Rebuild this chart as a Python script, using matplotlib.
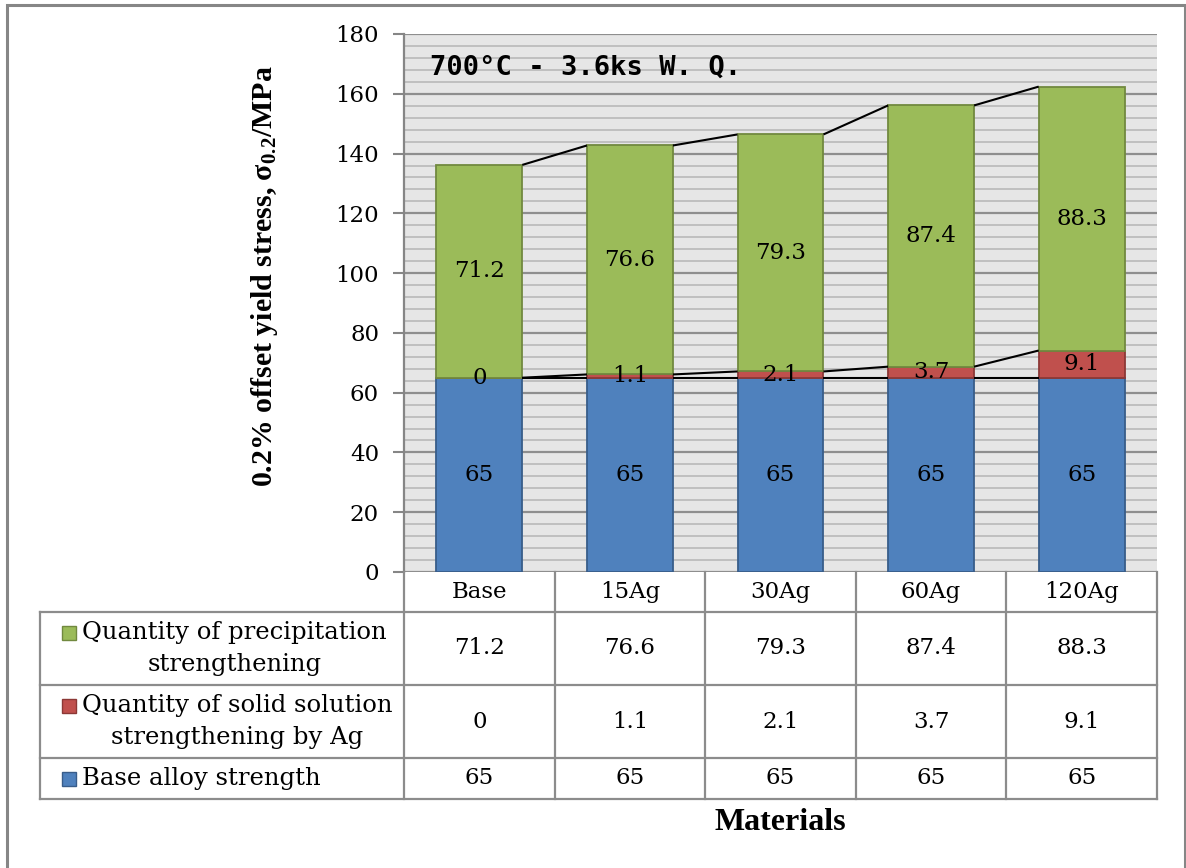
import matplotlib
matplotlib.use("Agg")
import matplotlib.pyplot as plt
import matplotlib.transforms as mtransforms
from matplotlib.patches import Rectangle
from matplotlib.lines import Line2D
from matplotlib.ticker import MultipleLocator

# ---- data -------------------------------------------------------------
materials = ["Base", "15Ag", "30Ag", "60Ag", "120Ag"]
base_strength = [65, 65, 65, 65, 65]
solid_solution = [0, 1.1, 2.1, 3.7, 9.1]
precipitation = [71.2, 76.6, 79.3, 87.4, 88.3]

series_names = ["Quantity of precipitation\nstrengthening",
                "Quantity of solid solution\nstrengthening by Ag",
                "Base alloy strength"]
y_ticks = [0, 20, 40, 60, 80, 100, 120, 140, 160, 180]
title_text = "700°C - 3.6ks W. Q."

# ---- styling ----------------------------------------------------------
plt.rcParams["mathtext.fontset"] = "custom"
plt.rcParams["mathtext.rm"] = "Liberation Serif"
plt.rcParams["mathtext.bf"] = "Liberation Serif:bold"
plt.rcParams["mathtext.it"] = "Liberation Serif:italic"

W, H = 1186, 868
C_BLUE, E_BLUE = "#4f81bd", "#385d8a"
C_RED, E_RED = "#c0504d", "#8c3836"
C_GREEN, E_GREEN = "#9bbb59", "#71893f"
GRID_BG = "#e6e6e6"
TABLE_LINE = "#8c8c8c"
SERIF = ["DejaVu Serif"]
BOLD_SERIF = ["Liberation Serif", "DejaVu Serif"]
NUM_FS = 16.5
TXT_FS = 17.5

fig = plt.figure(figsize=(W / 100, H / 100), dpi=100)


def fx(px):
    return px / W


def fy(py):
    return 1 - py / H


# chart area frame
fig.patches.append(Rectangle((fx(7), fy(874)), fx(1185) - fx(7), fy(5) - fy(874),
                             transform=fig.transFigure, fill=False,
                             edgecolor="#868686", linewidth=2.2))

L, R, T, B = 404, 1157, 34, 572
ax = fig.add_axes([fx(L), fy(B), fx(R) - fx(L), fy(T) - fy(B)])
ax.set_facecolor(GRID_BG)

x = list(range(len(materials)))
bw = 0.571
red_bottom = base_strength
green_bottom = [b + s for b, s in zip(base_strength, solid_solution)]
totals = [g + p for g, p in zip(green_bottom, precipitation)]

ax.bar(x, base_strength, width=bw, color=C_BLUE, edgecolor=E_BLUE, linewidth=1.3, zorder=3)
ax.bar(x, solid_solution, width=bw, bottom=red_bottom, color=C_RED, edgecolor=E_RED,
       linewidth=1.3, zorder=3)
ax.bar(x, precipitation, width=bw, bottom=green_bottom, color=C_GREEN, edgecolor=E_GREEN,
       linewidth=1.3, zorder=3)

# series lines between neighbouring stacks
for tops in (base_strength, green_bottom, totals):
    for i in range(len(x) - 1):
        ax.plot([x[i] + bw / 2, x[i + 1] - bw / 2], [tops[i], tops[i + 1]],
                color="black", linewidth=1.5, zorder=4, solid_capstyle="butt")

# data labels
for i in x:
    ax.text(i, base_strength[i] / 2, f"{base_strength[i]:g}", ha="center", va="center",
            fontsize=NUM_FS, family=SERIF, zorder=5)
    ax.text(i, red_bottom[i] + solid_solution[i] / 2, f"{solid_solution[i]:g}", ha="center",
            va="center", fontsize=NUM_FS, family=SERIF, zorder=5)
    ax.text(i, green_bottom[i] + precipitation[i] / 2, f"{precipitation[i]:g}", ha="center",
            va="center", fontsize=NUM_FS, family=SERIF, zorder=5)

ax.set_xlim(-0.5, len(x) - 0.5)
ax.set_ylim(0, 180)
ax.set_yticks(y_ticks)
ax.yaxis.set_minor_locator(MultipleLocator(4))
ax.set_xticks([])
ax.grid(which="minor", axis="y", color="#bcbcbc", linewidth=1.3, zorder=0)
ax.grid(which="major", axis="y", color="#8e8e8e", linewidth=1.6, zorder=1)
ax.set_axisbelow(True)
ax.tick_params(axis="y", which="major", length=8, width=1.5, color="#868686",
               labelsize=NUM_FS, pad=10)
ax.tick_params(axis="y", which="minor", length=0)
for lbl in ax.get_yticklabels():
    lbl.set_family(SERIF)
for s in ("top", "right", "bottom"):
    ax.spines[s].set_visible(False)
ax.spines["left"].set_color("#868686")
ax.spines["left"].set_linewidth(1.6)

# value-axis title
fig.text(fx(265), fy(276), "0.2% offset yield stress, $\\mathbf{\\sigma_{0.2}}$/MPa",
         rotation=90, ha="center", va="center", fontsize=21.5, fontweight="bold",
         family=BOLD_SERIF)

fig.text(fx(430), fy(68), title_text, ha="left", va="center", fontsize=19.5,
         fontweight="bold", family=["DejaVu Sans Mono"])

# ---- data table ----------------------------------------------------------
blend = mtransforms.blended_transform_factory(ax.transData, fig.transFigure)
row_edges = [572, 612, 685, 758, 799]
tbl_left = 40


def hline(y, x0_px):
    fig.add_artist(Line2D([fx(x0_px), fx(R)], [fy(y), fy(y)], transform=fig.transFigure,
                          color=TABLE_LINE, linewidth=1.6))


for y in row_edges[1:]:
    hline(y, tbl_left)
# column separators follow the category axis
for k in range(len(x) + 1):
    xe = k - 0.5
    fig.add_artist(Line2D([xe, xe], [fy(row_edges[0]), fy(row_edges[-1])], transform=blend,
                          color=TABLE_LINE, linewidth=1.6))
fig.add_artist(Line2D([fx(tbl_left), fx(tbl_left)], [fy(row_edges[1]), fy(row_edges[-1])],
                      transform=fig.transFigure, color=TABLE_LINE, linewidth=1.6))

# header row with category names
hy = fy((row_edges[0] + row_edges[1]) / 2)
for i, name in zip(x, materials):
    fig.text(i, hy, name, transform=blend, ha="center", va="center", fontsize=NUM_FS,
             family=SERIF)

rows = [(precipitation, C_GREEN, E_GREEN), (solid_solution, C_RED, E_RED),
        (base_strength, C_BLUE, E_BLUE)]
line_px = 31
for r, ((vals, col, ecol), name) in enumerate(zip(rows, series_names)):
    yc_px = (row_edges[r + 1] + row_edges[r + 2]) / 2
    yc = fy(yc_px)
    for i, v in zip(x, vals):
        fig.text(i, yc, f"{v:g}", transform=blend, ha="center", va="center",
                 fontsize=NUM_FS, family=SERIF)
    nlines = name.count("\n") + 1
    key_c = yc_px - (nlines - 1) * line_px / 2
    fig.patches.append(Rectangle((fx(62), fy(key_c + 7)), fx(14), fy(0) - fy(14),
                                 transform=fig.transFigure, facecolor=col,
                                 edgecolor=ecol, linewidth=1.0))
    fig.text(fx(82), yc, name, ha="left", va="center", multialignment="center",
             fontsize=TXT_FS, family=SERIF, linespacing=1.45)

fig.text(fx(780), fy(823), "Materials", ha="center", va="center", fontsize=23,
         fontweight="bold", family=BOLD_SERIF)

fig.savefig("out.png", dpi=100)
